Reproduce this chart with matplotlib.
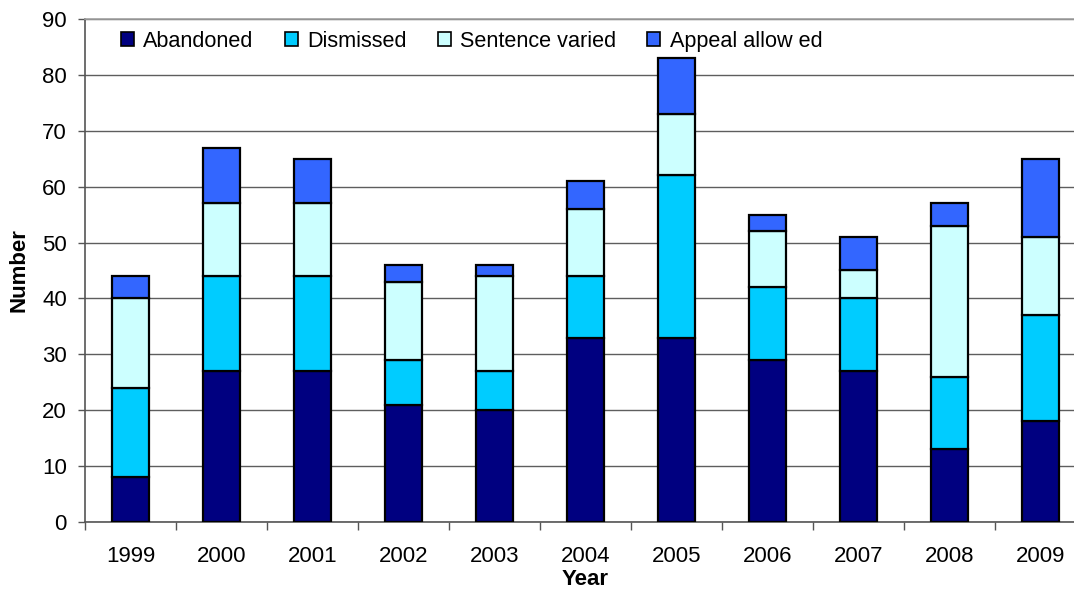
import matplotlib
matplotlib.use("Agg")
import matplotlib.pyplot as plt
import numpy as np

years = ["1999", "2000", "2001", "2002", "2003", "2004", "2005", "2006", "2007", "2008", "2009"]
abandoned = [8, 27, 27, 21, 20, 33, 33, 29, 27, 13, 18]
dismissed = [16, 17, 17, 8, 7, 11, 29, 13, 13, 13, 19]
sentence_varied = [16, 13, 13, 14, 17, 12, 11, 10, 5, 27, 14]
appeal_allowed = [4, 10, 8, 3, 2, 5, 10, 3, 6, 4, 14]

series = [("Abandoned", abandoned, "#000080"),
          ("Dismissed", dismissed, "#00CCFF"),
          ("Sentence varied", sentence_varied, "#CCFFFF"),
          ("Appeal allow ed", appeal_allowed, "#3366FF")]

plt.rcParams["font.family"] = ["Liberation Sans", "DejaVu Sans"]
fs = 16

fig = plt.figure(figsize=(10.74, 5.99), dpi=100)
ax = fig.add_axes([85 / 1074, 77 / 599, 1001 / 1074, 503 / 599])

x = np.arange(len(years))
bottom = np.zeros(len(years))
for name, vals, color in series:
    ax.bar(x, vals, 0.4, bottom=bottom, color=color, edgecolor="black",
           linewidth=1.6, label=name, zorder=3)
    bottom += np.array(vals)

ax.set_xlim(-0.5, len(years) - 0.5)
ax.set_ylim(0, 90)
ax.set_yticks(range(0, 91, 10))
ax.yaxis.grid(True, color="#5e5e5e", linewidth=1.0, zorder=0)
ax.set_axisbelow(True)

ax.set_xticks(x)
ax.set_xticklabels(years, fontsize=fs)
ax.tick_params(axis="x", which="major", length=0, pad=17)
ax.set_xticks(np.arange(-0.5, len(years)), minor=True)
ax.tick_params(axis="x", which="minor", length=6, width=1, color="#555555")
ax.tick_params(axis="y", labelsize=fs, length=5, width=1, pad=8, color="#555555")

for s in ["left", "bottom"]:
    ax.spines[s].set_color("#555555")
    ax.spines[s].set_linewidth(1.2)
ax.spines["top"].set_color("#a0a0a0")
ax.spines["top"].set_linewidth(1.2)
ax.spines["right"].set_visible(False)

ax.set_xlabel("Year", fontsize=fs, fontweight="bold", labelpad=2)
ax.set_ylabel("Number", fontsize=fs, fontweight="bold", labelpad=9)

leg = ax.legend(ncol=4, loc="upper left", bbox_to_anchor=(0.024, 1.0), frameon=False,
                fontsize=15.6, handlelength=0.6, handleheight=0.6, handletextpad=0.42,
                columnspacing=1.45, borderaxespad=0.15)
for h in leg.legend_handles:
    h.set_linewidth(1.2)

fig.savefig("out.png", dpi=100)
